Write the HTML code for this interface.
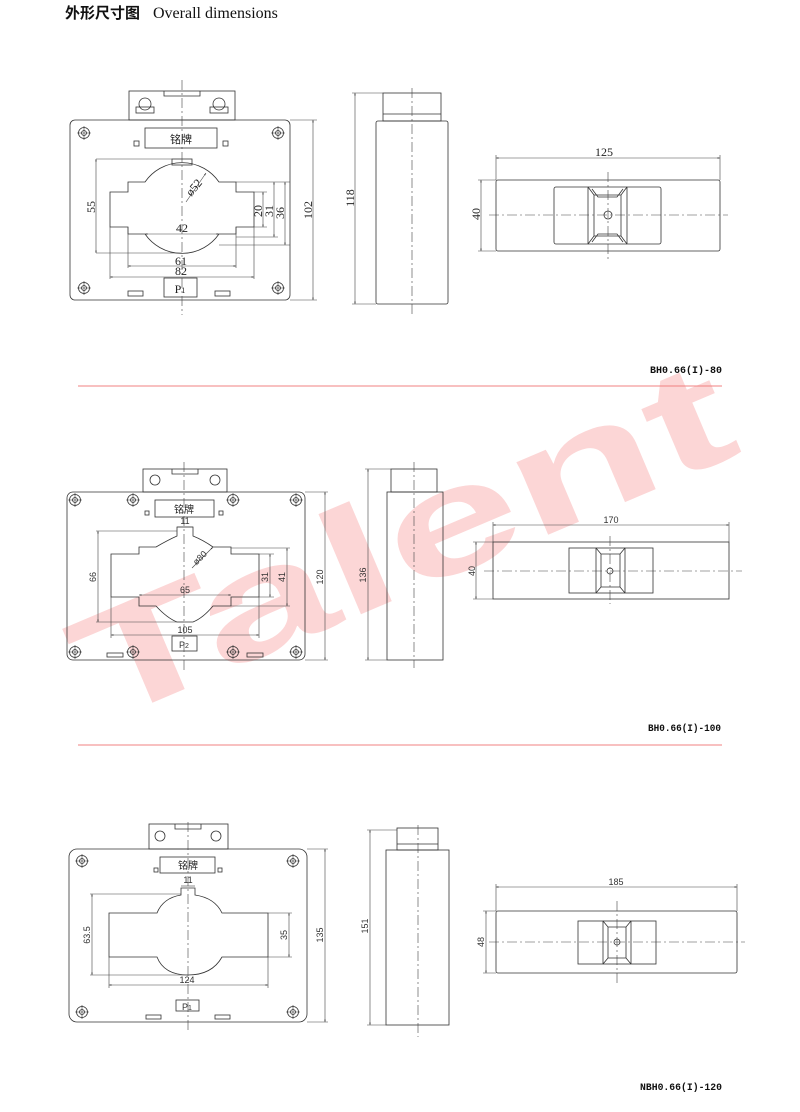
<!DOCTYPE html>
<html><head><meta charset="utf-8"><style>
html,body{margin:0;padding:0;background:#fff}
svg{display:block}
.l{fill:none;stroke:#333;stroke-width:0.8}
.t{stroke:#444;stroke-width:0.6;fill:none}
.c{stroke:#444;stroke-width:0.6;fill:none;stroke-dasharray:10 3 2 3}
.s{font-family:"Liberation Serif",serif;font-size:12px;fill:#222}
.n{font-family:"Liberation Sans",sans-serif;font-size:9px;fill:#333}
.lab{font-family:"Liberation Mono",monospace;font-size:10px;font-weight:bold;fill:#111}
</style></head><body>
<svg width="800" height="1112" viewBox="0 0 800 1112" xmlns="http://www.w3.org/2000/svg">
<defs>
<marker id="a" viewBox="0 0 10 10" refX="10" refY="5" markerWidth="6" markerHeight="4" orient="auto-start-reverse"><path d="M0,2 L10,5 L0,8 Z" fill="#333"/></marker>
<g id="h"><circle r="5.5" fill="none" stroke="#333" stroke-width="0.8"/><circle r="2.5" fill="none" stroke="#333" stroke-width="0.8"/><path d="M-7,0H7M0,-7V7" stroke="#333" stroke-width="0.6"/></g>
</defs>

<text x="100" y="725" transform="rotate(-23 100 725)" font-family="Liberation Sans,sans-serif" font-weight="bold" font-size="150" fill="#fcd6d6" textLength="700" lengthAdjust="spacingAndGlyphs">Talent</text>

<text x="65" y="18" font-family="'Noto Sans CJK SC',sans-serif" font-weight="bold" font-size="15" fill="#111">外形尺寸图</text>
<text x="153" y="18" font-family="'Liberation Serif',serif" font-size="16" fill="#111">Overall dimensions</text>

<g>
<rect class="l" x="129" y="91" width="106" height="29"/>
<path class="l" d="M164,91 v5 h36 v-5"/>
<circle class="l" cx="145" cy="104" r="6"/><circle class="l" cx="219" cy="104" r="6"/>
<rect class="l" x="136" y="107" width="18" height="6"/><rect class="l" x="210" y="107" width="18" height="6"/>
<rect class="l" x="70" y="120" width="220" height="180" rx="5"/>
<use href="#h" x="84" y="133"/><use href="#h" x="278" y="133"/>
<use href="#h" x="84" y="288"/><use href="#h" x="278" y="288"/>
<rect class="l" x="145" y="128" width="72" height="20"/>
<text x="181" y="143" text-anchor="middle" font-family="'Noto Sans CJK SC',sans-serif" font-size="11" fill="#222">铭牌</text>
<rect class="l" x="134" y="141" width="5" height="5"/><rect class="l" x="223" y="141" width="5" height="5"/>
<rect class="l" x="172" y="159" width="20" height="6"/>
<path class="l" d="M110,192 H128 V182 H145 A45 45 0 0 1 219,182 H236 V192 H254 V227 H236 V234 H219 A45 45 0 0 1 145,234 H128 V227 H110 Z"/>
<rect class="l" x="164" y="278" width="33" height="19"/>
<text x="180" y="293" text-anchor="middle" class="s">P<tspan font-size="8">1</tspan></text>
<rect class="l" x="128" y="291" width="15" height="5"/><rect class="l" x="215" y="291" width="15" height="5"/>
<line class="c" x1="182" y1="80" x2="182" y2="315"/>
<path class="t" d="M96,159 H172 M96,253 H182"/>
<line class="t" x1="96" y1="159" x2="96" y2="253" marker-start="url(#a)" marker-end="url(#a)"/>
<text class="s" transform="translate(95,207) rotate(-90)" text-anchor="middle">55</text>
<path class="t" d="M254,192 H267 M236,182 H290 M254,227 H267 M236,237 H278 M219,245 H290"/>
<line class="t" x1="263" y1="192" x2="263" y2="227" marker-start="url(#a)" marker-end="url(#a)"/>
<line class="t" x1="274" y1="182" x2="274" y2="237" marker-start="url(#a)" marker-end="url(#a)"/>
<line class="t" x1="285" y1="182" x2="285" y2="245" marker-start="url(#a)" marker-end="url(#a)"/>
<text class="s" transform="translate(262,211) rotate(-90)" text-anchor="middle">20</text>
<text class="s" transform="translate(273,211) rotate(-90)" text-anchor="middle">31</text>
<text class="s" transform="translate(284,213) rotate(-90)" text-anchor="middle">36</text>
<path class="t" d="M290,120 H317 M290,300 H317"/>
<line class="t" x1="313" y1="120" x2="313" y2="300" marker-start="url(#a)" marker-end="url(#a)"/>
<text class="s" transform="translate(312,210) rotate(-90)" text-anchor="middle">102</text>
<line class="t" x1="145" y1="234" x2="219" y2="234" marker-start="url(#a)" marker-end="url(#a)"/>
<text class="s" x="182" y="232" text-anchor="middle">42</text>
<path class="t" d="M128,227 V268 M236,227 V268 M110,227 V279 M254,227 V279"/>
<line class="t" x1="128" y1="266" x2="236" y2="266" marker-start="url(#a)" marker-end="url(#a)"/>
<text class="s" x="181" y="265" text-anchor="middle">61</text>
<line class="t" x1="110" y1="277" x2="254" y2="277" marker-start="url(#a)" marker-end="url(#a)"/>
<text class="s" x="181" y="275" text-anchor="middle">82</text>
<line class="t" x1="186" y1="202" x2="206" y2="173" marker-end="url(#a)"/>
<text class="s" transform="translate(197,190) rotate(-50)" text-anchor="middle" font-size="10">ø52</text>

<rect class="l" x="383" y="93" width="58" height="28"/><line class="l" x1="383" y1="114" x2="441" y2="114"/>
<rect class="l" x="376" y="121" width="72" height="183" rx="2"/>
<line class="c" x1="412" y1="88" x2="412" y2="314"/>
<path class="t" d="M352,93 H383 M352,304 H376"/>
<line class="t" x1="355" y1="93" x2="355" y2="304" marker-start="url(#a)" marker-end="url(#a)"/>
<text class="s" transform="translate(354,198) rotate(-90)" text-anchor="middle">118</text>
<rect class="l" x="496" y="180" width="224" height="71" rx="2"/>
<rect class="l" x="554" y="187" width="107" height="57" rx="2"/>
<path class="l" d="M588,187 V244 M627,187 V244 M588,187 l6,8 h27 l6,-8 M592,189 l6,8 h19 l6,-8 M588,244 l6,-8 h27 l6,8 M592,242 l6,-8 h19 l6,8 M594,195 V236 M621,195 V236"/>
<circle class="l" cx="608" cy="215" r="4"/>
<line class="c" x1="489" y1="215" x2="728" y2="215"/>
<line class="c" x1="608" y1="172" x2="608" y2="259"/>
<path class="t" d="M496,155 V180 M720,155 V180 M478,180 H496 M478,251 H496"/>
<line class="t" x1="496" y1="158" x2="720" y2="158" marker-start="url(#a)" marker-end="url(#a)"/>
<text class="s" x="604" y="156" text-anchor="middle">125</text>
<line class="t" x1="481" y1="180" x2="481" y2="251" marker-start="url(#a)" marker-end="url(#a)"/>
<text class="s" transform="translate(480,214) rotate(-90)" text-anchor="middle">40</text>
<text class="lab" x="650" y="373" textLength="72" lengthAdjust="spacingAndGlyphs">BH0.66(I)-80</text>
<line x1="78" y1="386" x2="722" y2="386" stroke="#f08080" stroke-width="1"/>
</g>

<g>
<rect class="l" x="143" y="469" width="84" height="23"/>
<path class="l" d="M172,469 v5 h26 v-5"/>
<circle class="l" cx="155" cy="480" r="5"/><circle class="l" cx="215" cy="480" r="5"/>
<rect class="l" x="67" y="492" width="238" height="168" rx="6"/>
<use href="#h" x="75" y="500"/><use href="#h" x="296" y="500"/><use href="#h" x="133" y="500"/><use href="#h" x="233" y="500"/>
<use href="#h" x="75" y="652"/><use href="#h" x="296" y="652"/><use href="#h" x="133" y="652"/><use href="#h" x="233" y="652"/>
<rect class="l" x="155" y="500" width="59" height="17"/>
<text x="184" y="513" text-anchor="middle" font-family="'Noto Sans CJK SC',sans-serif" font-size="10" fill="#222">铭牌</text>
<rect class="l" x="145" y="511" width="4" height="4"/><rect class="l" x="219" y="511" width="4" height="4"/>
<path class="l" d="M111,554 H139 V547 H156 Q168,540 177,536 V527 H193 V536 Q203,540 213,547 H231 V554 H259 V597 H231 V606 H213 Q203,618 193,622 H177 Q167,618 156,606 H139 V597 H111 Z"/>
<rect class="l" x="172" y="636" width="25" height="15"/>
<text x="184" y="648" text-anchor="middle" class="n" font-size="10">P<tspan font-size="7">2</tspan></text>
<rect class="l" x="107" y="653" width="16" height="4"/><rect class="l" x="247" y="653" width="16" height="4"/>
<line class="c" x1="184" y1="462" x2="184" y2="672"/>
<path class="t" d="M96,531 H177 M96,622 H184"/>
<line class="t" x1="98" y1="531" x2="98" y2="622" marker-start="url(#a)" marker-end="url(#a)"/>
<text class="n" transform="translate(96,577) rotate(-90)" text-anchor="middle">66</text>
<line class="t" x1="177" y1="527" x2="193" y2="527"/>
<text class="n" x="185" y="524" text-anchor="middle">11</text>
<path class="t" d="M259,554 H274 M231,548 H290 M231,606 H290 M259,597 H274"/>
<line class="t" x1="270" y1="554" x2="270" y2="597" marker-start="url(#a)" marker-end="url(#a)"/>
<line class="t" x1="287" y1="548" x2="287" y2="606" marker-start="url(#a)" marker-end="url(#a)"/>
<text class="n" transform="translate(268,577) rotate(-90)" text-anchor="middle">31</text>
<text class="n" transform="translate(285,577) rotate(-90)" text-anchor="middle">41</text>
<path class="t" d="M305,492 H328 M305,660 H328"/>
<line class="t" x1="325" y1="492" x2="325" y2="660" marker-start="url(#a)" marker-end="url(#a)"/>
<text class="n" transform="translate(323,577) rotate(-90)" text-anchor="middle">120</text>
<line class="t" x1="139" y1="595" x2="231" y2="595" marker-start="url(#a)" marker-end="url(#a)"/>
<text class="n" x="185" y="593" text-anchor="middle">65</text>
<path class="t" d="M111,597 V638 M259,597 V638"/>
<line class="t" x1="111" y1="635" x2="259" y2="635" marker-start="url(#a)" marker-end="url(#a)"/>
<text class="n" x="185" y="633" text-anchor="middle">105</text>
<line class="t" x1="192" y1="568" x2="213" y2="547" marker-end="url(#a)"/>
<text class="n" transform="translate(202,560) rotate(-45)" text-anchor="middle" font-size="8">ø80</text>
<rect class="l" x="391" y="469" width="46" height="23"/>
<rect class="l" x="387" y="492" width="56" height="168"/>
<line class="c" x1="414" y1="462" x2="414" y2="668"/>
<path class="t" d="M365,469 H391 M365,660 H387"/>
<line class="t" x1="368" y1="469" x2="368" y2="660" marker-start="url(#a)" marker-end="url(#a)"/>
<text class="n" transform="translate(366,575) rotate(-90)" text-anchor="middle">136</text>
<rect class="l" x="493" y="542" width="236" height="57"/>
<rect class="l" x="569" y="548" width="84" height="45"/>
<path class="l" d="M596,548 V593 M625,548 V593 M596,548 l5,6 h19 l5,-6 M596,593 l5,-6 h19 l5,6 M601,554 V587 M620,554 V587"/>
<circle class="l" cx="610" cy="571" r="3"/>
<line class="c" x1="484" y1="571" x2="742" y2="571"/>
<line class="c" x1="610" y1="536" x2="610" y2="604"/>
<path class="t" d="M493,522 V542 M729,522 V542 M473,542 H493 M473,599 H493"/>
<line class="t" x1="493" y1="525" x2="729" y2="525" marker-start="url(#a)" marker-end="url(#a)"/>
<text class="n" x="611" y="523" text-anchor="middle">170</text>
<line class="t" x1="476" y1="542" x2="476" y2="599" marker-start="url(#a)" marker-end="url(#a)"/>
<text class="n" transform="translate(475,571) rotate(-90)" text-anchor="middle">40</text>
<text class="lab" x="648" y="731" textLength="73" lengthAdjust="spacingAndGlyphs">BH0.66(I)-100</text>
<line x1="78" y1="745" x2="722" y2="745" stroke="#f08080" stroke-width="1"/>
</g>

<g>
<rect class="l" x="149" y="824" width="79" height="25"/>
<path class="l" d="M175,824 v5 h26 v-5"/>
<circle class="l" cx="160" cy="836" r="5"/><circle class="l" cx="216" cy="836" r="5"/>
<rect class="l" x="69" y="849" width="238" height="173" rx="8"/>
<use href="#h" x="82" y="861"/><use href="#h" x="293" y="861"/><use href="#h" x="82" y="1012"/><use href="#h" x="293" y="1012"/>
<rect class="l" x="160" y="857" width="55" height="16"/>
<text x="188" y="869" text-anchor="middle" font-family="'Noto Sans CJK SC',sans-serif" font-size="10" fill="#222">铭牌</text>
<rect class="l" x="154" y="868" width="4" height="4"/><rect class="l" x="218" y="868" width="4" height="4"/>
<path class="l" d="M109,913 H157 Q163,898 181,895 V888 H195 V895 Q215,898 222,913 H268 V957 H222 Q212,975 188,975 Q164,975 157,957 H109 Z"/>
<rect class="l" x="176" y="1000" width="23" height="11"/>
<text x="187" y="1010" text-anchor="middle" class="n" font-size="10">P<tspan font-size="7">1</tspan></text>
<rect class="l" x="146" y="1015" width="15" height="4"/><rect class="l" x="215" y="1015" width="15" height="4"/>
<line class="c" x1="188" y1="822" x2="188" y2="1030"/>
<path class="t" d="M90,894 H181 M90,975 H188"/>
<line class="t" x1="92" y1="894" x2="92" y2="975" marker-start="url(#a)" marker-end="url(#a)"/>
<text class="n" transform="translate(90,935) rotate(-90)" text-anchor="middle">63.5</text>
<line class="t" x1="181" y1="886" x2="195" y2="886"/>
<text class="n" x="188" y="883" text-anchor="middle">11</text>
<path class="t" d="M268,913 H292 M268,957 H292"/>
<line class="t" x1="289" y1="913" x2="289" y2="957" marker-start="url(#a)" marker-end="url(#a)"/>
<text class="n" transform="translate(287,935) rotate(-90)" text-anchor="middle">35</text>
<path class="t" d="M109,957 V988 M268,957 V988"/>
<line class="t" x1="109" y1="985" x2="268" y2="985" marker-start="url(#a)" marker-end="url(#a)"/>
<text class="n" x="187" y="983" text-anchor="middle">124</text>
<path class="t" d="M307,849 H328 M307,1022 H328"/>
<line class="t" x1="325" y1="849" x2="325" y2="1022" marker-start="url(#a)" marker-end="url(#a)"/>
<text class="n" transform="translate(323,935) rotate(-90)" text-anchor="middle">135</text>
<rect class="l" x="397" y="828" width="41" height="22"/><line class="l" x1="397" y1="844" x2="438" y2="844"/>
<rect class="l" x="386" y="850" width="63" height="175"/>
<line class="c" x1="418" y1="825" x2="418" y2="1037"/>
<path class="t" d="M367,830 H397 M367,1025 H386"/>
<line class="t" x1="370" y1="830" x2="370" y2="1025" marker-start="url(#a)" marker-end="url(#a)"/>
<text class="n" transform="translate(368,926) rotate(-90)" text-anchor="middle">151</text>
<rect class="l" x="496" y="911" width="241" height="62" rx="2"/>
<rect class="l" x="578" y="921" width="78" height="43"/>
<path class="l" d="M603,921 V964 M631,921 V964 M603,921 l5,6 h18 l5,-6 M603,964 l5,-6 h18 l5,6 M608,927 V958 M626,927 V958"/>
<circle class="l" cx="617" cy="942" r="3"/>
<line class="c" x1="489" y1="942" x2="745" y2="942"/>
<line class="c" x1="617" y1="901" x2="617" y2="983"/>
<path class="t" d="M496,884 V911 M737,884 V911 M483,911 H496 M483,973 H496"/>
<line class="t" x1="496" y1="887" x2="737" y2="887" marker-start="url(#a)" marker-end="url(#a)"/>
<text class="n" x="616" y="885" text-anchor="middle">185</text>
<line class="t" x1="486" y1="911" x2="486" y2="973" marker-start="url(#a)" marker-end="url(#a)"/>
<text class="n" transform="translate(484,942) rotate(-90)" text-anchor="middle">48</text>
<text class="lab" x="640" y="1090" textLength="82" lengthAdjust="spacingAndGlyphs">NBH0.66(I)-120</text>
</g>
</svg>
</body></html>
